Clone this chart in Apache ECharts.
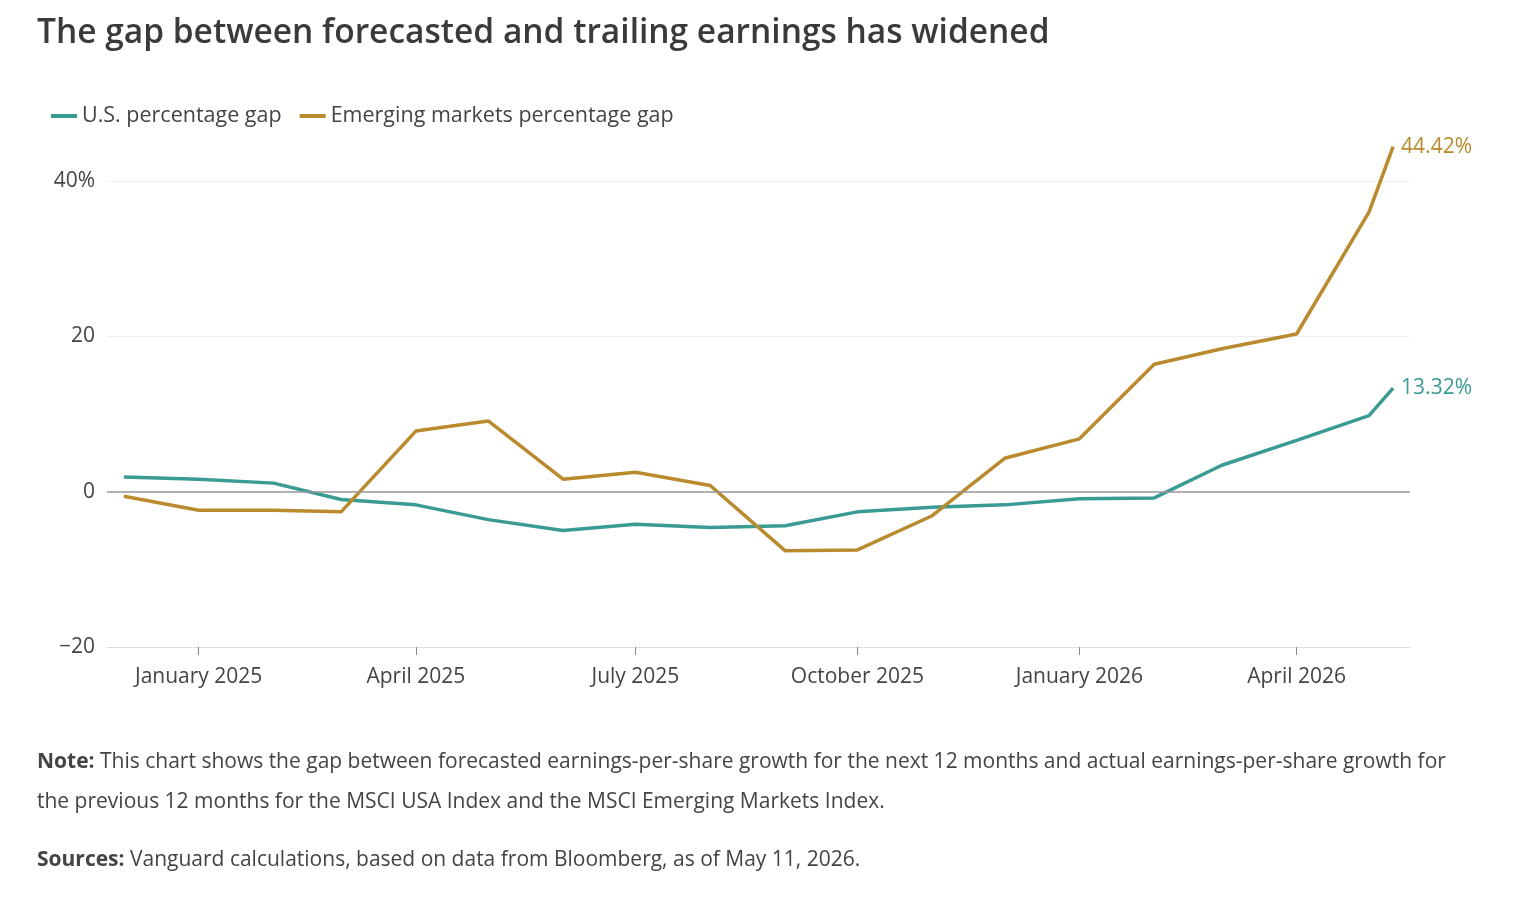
<!DOCTYPE html>
<html><head><meta charset="utf-8">
<script src="https://cdn.jsdelivr.net/npm/echarts@6/dist/echarts.min.js"></script>
<style>html,body{margin:0;background:#fff}#c{width:1520px;height:898px}</style>
</head><body><div id="c"></div>
<script>
var dates = ['2024-12-01','2025-01-01','2025-02-01','2025-03-01','2025-04-01','2025-05-01','2025-06-01','2025-07-01','2025-08-01','2025-09-01','2025-10-01','2025-11-01','2025-12-01','2026-01-01','2026-02-01','2026-03-01','2026-04-01','2026-05-01','2026-05-11']
var usGap = [1.9,1.6,1.1,-1.0,-1.7,-3.6,-5.0,-4.2,-4.6,-4.4,-2.6,-2.0,-1.7,-0.9,-0.8,3.4,6.6,9.8,13.32]
var emGap = [-0.6,-2.4,-2.4,-2.6,7.8,9.1,1.6,2.5,0.8,-7.6,-7.5,-3.1,4.3,6.8,16.4,18.4,20.3,36.0,44.42]
var tickDates = ['2025-01-01','2025-04-01','2025-07-01','2025-10-01','2026-01-01','2026-04-01']
var months = ['January','February','March','April','May','June','July','August','September','October','November','December']

var ts = function (d) { return new Date(d + 'T00:00:00Z').getTime() }
var tickVals = tickDates.map(ts)
var usData = dates.map(function (d, i) { return [ts(d), usGap[i]] })
var emData = dates.map(function (d, i) { return [ts(d), emGap[i]] })
var font = '"Open Sans", sans-serif'

var chart = echarts.init(document.getElementById('c'))
chart.setOption({
    animation: false,
    textStyle: { fontFamily: font },
    title: [
        { text: 'The gap between forecasted and trailing earnings has widened', left: 32, top: 11,
          textStyle: { fontSize: 33.5, fontWeight: 600, color: '#3a3a3a', fontFamily: font } },
        { text: '{b|Note:} This chart shows the gap between forecasted earnings-per-share growth for the next 12 months and actual earnings-per-share growth for\nthe previous 12 months for the MSCI USA Index and the MSCI Emerging Markets Index.',
          left: 32, top: 737,
          textStyle: { fontSize: 21, fontWeight: 'normal', color: '#444', lineHeight: 40, fontFamily: font,
                       rich: { b: { fontWeight: 'bold', fontSize: 21, color: '#444', fontFamily: font } } } },
        { text: '{b|Sources:} Vanguard calculations, based on data from Bloomberg, as of May 11, 2026.',
          left: 32, top: 845,
          textStyle: { fontSize: 21, fontWeight: 'normal', color: '#444', fontFamily: font,
                       rich: { b: { fontWeight: 'bold', fontSize: 21, color: '#444', fontFamily: font } } } }
    ],
    legend: {
        left: 46, top: 100, itemWidth: 26, itemHeight: 4, itemGap: 18, icon: 'rect',
        textStyle: { fontSize: 21.5, color: '#444', fontFamily: font },
        data: ['U.S. percentage gap', 'Emerging markets percentage gap']
    },
    grid: { left: 107, right: 110, top: 181, bottom: 251 },
    xAxis: {
        type: 'value',
        min: ts('2024-11-24'), max: ts('2026-05-18'),
        axisLine: { show: true, onZero: false, lineStyle: { color: '#ddd' } },
        axisTick: { show: true, customValues: tickVals, length: 8, lineStyle: { color: '#888' } },
        axisLabel: {
            customValues: tickVals, margin: 20, fontSize: 21, color: '#444', fontFamily: font,
            formatter: function (v) { var d = new Date(v); return months[d.getUTCMonth()] + ' ' + d.getUTCFullYear() }
        },
        splitLine: { show: false }
    },
    yAxis: {
        type: 'value', min: -20, max: 40, interval: 20,
        axisLine: { show: false }, axisTick: { show: false },
        axisLabel: { fontSize: 21, color: '#444', margin: 12, fontFamily: font,
                     formatter: function (v) { return v === 40 ? '40%' : (v < 0 ? '\u2212' + (-v) : '' + v) } },
        splitLine: { lineStyle: { color: '#eee' } }
    },
    series: [
        { name: 'U.S. percentage gap', type: 'line', data: usData, symbol: 'none', clip: false,
          color: '#3a9b94', lineStyle: { width: 3.5 },
          endLabel: { show: true, fontSize: 21, color: '#3a9b94', distance: 8, fontFamily: font,
                      formatter: function (p) { return p.value[1].toFixed(2) + '%' } },
          markLine: { silent: true, symbol: 'none', label: { show: false },
                      lineStyle: { color: '#999', width: 1.5, type: 'solid' }, data: [{ yAxis: 0 }] } },
        { name: 'Emerging markets percentage gap', type: 'line', data: emData, symbol: 'none', clip: false,
          color: '#b98a2e', lineStyle: { width: 3.5 },
          endLabel: { show: true, fontSize: 21, color: '#b98a2e', distance: 8, fontFamily: font,
                      formatter: function (p) { return p.value[1].toFixed(2) + '%' } } }
    ]
})
</script></body></html>
